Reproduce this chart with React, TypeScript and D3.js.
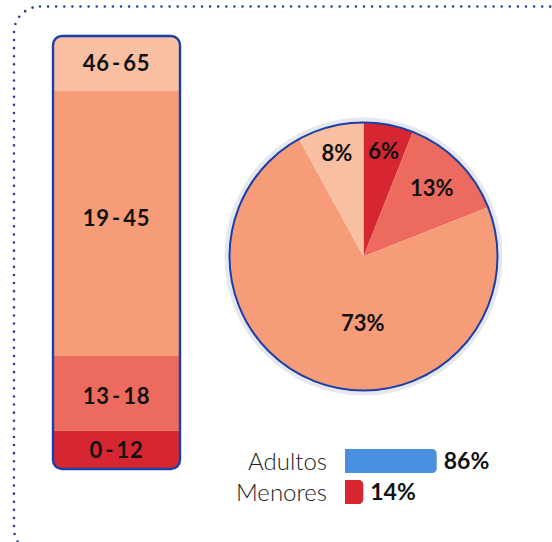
import React, { useRef, useEffect } from 'react';
import * as d3 from 'd3';

// age groups, bottom to top
const ageGroups = ['0-12', '13-18', '19-45', '46-65'];
const barShares = [8.8, 17.3, 61.2, 12.7];
const pieShares = [6, 13, 73, 8];
const groupColors = ['#d62631', '#ec6a5e', '#f79c78', '#f9bfa3'];
const labelRadius = [0.8, 0.72, 0.5, 0.8];

const legendLabels = ['Adultos', 'Menores'];
const legendValues = [86, 14];
const legendColors = ['#4a90e0', '#d62631'];

const W = 552;
const H = 542;

const App = () => {
  const svgRef = useRef<SVGSVGElement>(null);

  useEffect(() => {
    const svg = d3.select(svgRef.current);
    svg.selectAll('*').remove();
    const font = 'Lato, "Open Sans", sans-serif';

    // dotted frame
    svg.append('rect')
      .attr('x', 14).attr('y', 6.5)
      .attr('width', 560).attr('height', 548)
      .attr('rx', 26)
      .attr('fill', 'none')
      .attr('stroke', '#2b3f8f')
      .attr('stroke-width', 2.6)
      .attr('stroke-linecap', 'round')
      .attr('stroke-dasharray', '0 8.1');

    // stacked bar
    const bx = 53, bw = 127, by0 = 36, by1 = 469;
    const yScale = d3.scaleLinear()
      .domain([0, d3.sum(barShares)])
      .range([by1, by0]);
    const stacked = barShares.map((v, i) => ({
      name: ageGroups[i],
      y0: d3.sum(barShares.slice(0, i)),
      y1: d3.sum(barShares.slice(0, i + 1)),
      color: groupColors[i],
    }));

    const defs = svg.append('defs');
    defs.append('clipPath').attr('id', 'barClip')
      .append('rect')
      .attr('x', bx).attr('y', by0)
      .attr('width', bw).attr('height', by1 - by0)
      .attr('rx', 9);

    const bar = svg.append('g').attr('clip-path', 'url(#barClip)');
    bar.selectAll('rect')
      .data(stacked)
      .enter()
      .append('rect')
      .attr('x', bx)
      .attr('y', d => yScale(d.y1))
      .attr('width', bw)
      .attr('height', d => yScale(d.y0) - yScale(d.y1))
      .attr('fill', d => d.color);

    const nudge: Record<string, number> = { '0-12': 0, '13-18': 3, '19-45': -5, '46-65': 0 };
    svg.selectAll('.bar-label')
      .data(stacked)
      .enter()
      .append('text')
      .attr('class', 'bar-label')
      .attr('x', bx + bw / 2)
      .attr('y', d => (yScale(d.y0) + yScale(d.y1)) / 2 + nudge[d.name])
      .attr('dy', '0.36em')
      .attr('text-anchor', 'middle')
      .attr('font-family', font)
      .attr('font-weight', 700)
      .attr('font-size', 22)
      .attr('letter-spacing', 0.8)
      .attr('fill', '#111')
      .text(d => d.name.replace('-', '\u200a-\u200a'));

    svg.append('rect')
      .attr('x', bx).attr('y', by0)
      .attr('width', bw).attr('height', by1 - by0)
      .attr('rx', 9)
      .attr('fill', 'none')
      .attr('stroke', '#1a3fa8')
      .attr('stroke-width', 2.4);

    // pie
    const cx = 363.5, cy = 256.5, r = 134;
    const pie = d3.pie<number>().sort(null).value(d => d);
    const arcs = pie(pieShares);
    const arc = d3.arc<d3.PieArcDatum<number>>().innerRadius(0).outerRadius(r);
    const pg = svg.append('g').attr('transform', `translate(${cx},${cy})`);

    pg.append('circle')
      .attr('r', r + 2.5)
      .attr('fill', 'none')
      .attr('stroke', '#e6e8f1')
      .attr('stroke-width', 5);

    pg.selectAll('path')
      .data(arcs)
      .enter()
      .append('path')
      .attr('d', arc)
      .attr('fill', (d, i) => groupColors[i]);

    pg.append('circle')
      .attr('r', r)
      .attr('fill', 'none')
      .attr('stroke', '#1a3fa8')
      .attr('stroke-width', 2);

    pg.selectAll('.pie-label')
      .data(arcs)
      .enter()
      .append('text')
      .attr('class', 'pie-label')
      .attr('transform', (d, i) => {
        const lr = r * labelRadius[i];
        const c = d3.arc<d3.PieArcDatum<number>>().innerRadius(lr).outerRadius(lr).centroid(d);
        const shift = i === 2 ? 22 : 0;
        return `translate(${c[0] + shift},${c[1] + (i === 2 ? 4 : 0)})`;
      })
      .attr('dy', '0.36em')
      .attr('text-anchor', 'middle')
      .attr('font-family', font)
      .attr('font-weight', 700)
      .attr('font-size', 22)
      .attr('fill', '#111')
      .text(d => `${d.data}%`);

    // legend bars
    const lx = 345;
    const xScale = d3.scaleLinear().domain([0, 100]).range([4, 106]);
    const rows = svg.selectAll('.legend-row')
      .data(legendValues)
      .enter()
      .append('g')
      .attr('class', 'legend-row')
      .attr('transform', (d, i) => `translate(0,${449 + i * 31})`);

    rows.append('text')
      .attr('x', 327)
      .attr('y', 12)
      .attr('dy', '0.36em')
      .attr('text-anchor', 'end')
      .attr('font-family', font)
      .attr('font-weight', 300)
      .attr('font-size', 24)
      .attr('fill', '#222')
      .text((d, i) => legendLabels[i]);

    rows.append('path')
      .attr('d', d => {
        const w = xScale(d);
        const rr = 5;
        return `M${lx},0H${lx + w - rr}Q${lx + w},0 ${lx + w},${rr}V${24 - rr}Q${lx + w},24 ${lx + w - rr},24H${lx}Z`;
      })
      .attr('fill', (d, i) => legendColors[i]);

    rows.append('text')
      .attr('x', d => lx + xScale(d) + 7)
      .attr('y', 12)
      .attr('dy', '0.36em')
      .attr('font-family', font)
      .attr('font-weight', 700)
      .attr('font-size', 23)
      .attr('fill', '#111')
      .text(d => `${d}%`);
  }, []);

  return (
    <svg
      ref={svgRef}
      width={W}
      height={H}
      style={{ position: 'absolute', left: 0, top: 0, background: '#fff' }}
    />
  );
};

export default App;
